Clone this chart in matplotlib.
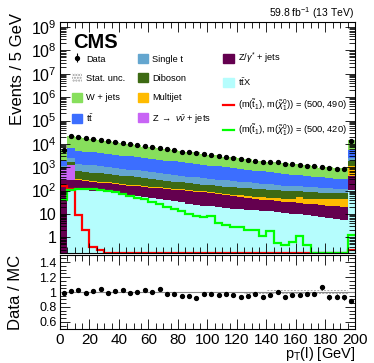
import numpy as np
import matplotlib
matplotlib.use("Agg")
import matplotlib.pyplot as plt
from matplotlib.patches import Patch
from matplotlib.lines import Line2D
from matplotlib.ticker import FixedLocator, FuncFormatter, MultipleLocator, LogLocator, NullFormatter

plt.rcParams['font.family'] = ['Liberation Sans', 'DejaVu Sans']
plt.rcParams['mathtext.fontset'] = 'custom'
plt.rcParams['mathtext.rm'] = 'Liberation Sans'
plt.rcParams['mathtext.it'] = 'Liberation Sans:italic'
plt.rcParams['mathtext.bf'] = 'Liberation Sans:bold'

# 5 GeV bins from 0 to 200, the last bin also holds the overflow
bin_edges = np.arange(0, 205, 5)

data = [5250, 21900, 19950, 18200, 16200, 14800, 12900, 11700, 10700, 10000,
        8700, 7940, 7080, 6760, 6170, 5370, 4680, 4370, 3980, 3720,
        3240, 3160, 2630, 2510, 2240, 2140, 1780, 1700, 1660, 1620,
        1410, 1320, 1290, 1175, 1100, 1020, 930, 850, 850, 12900]

ttx = [0, 129, 120, 110, 100, 93, 85, 78, 72, 66,
       60, 54, 48, 43, 39, 35, 31, 28, 25, 22,
       21, 19, 18, 17, 16, 15.5, 14.5, 13.5, 13, 12,
       11, 10, 9.5, 8.7, 8, 7.3, 6.7, 6.1, 5.6, 109]
zgamma = [277, 166, 155, 145, 136, 128, 120, 112, 104, 96,
          92, 88, 84, 80, 77, 73, 70, 67, 64, 61,
          55, 50, 45, 41, 37, 34, 31, 28, 25, 23.5,
          22, 21, 20, 19, 18, 17, 16, 15, 14, 296]
znunu = [635, 900] + [0] * 38
multijet = [10, 25, 24, 23, 22, 21, 20, 19, 17, 16,
            15, 14, 14, 13, 13, 12, 12, 11, 11, 10,
            10, 10, 10, 10, 10, 10, 10, 10, 10, 11,
            12, 14, 22, 16, 17, 18, 20, 22, 25, 685]
diboson = [90, 420, 390, 360, 335, 310, 290, 265, 245, 229,
           206, 185, 167, 150, 135, 122, 110, 100, 92, 85,
           82, 79, 76, 73, 70, 68, 66, 64, 62, 57,
           53, 49, 46, 43, 40, 37, 35, 33, 31, 690]
single_t = [150, 800, 730, 670, 610, 560, 510, 465, 425, 390,
            355, 325, 300, 275, 250, 230, 210, 195, 180, 170,
            155, 140, 128, 117, 107, 98, 90, 82, 75, 71,
            67, 63, 60, 56, 53, 50, 48, 46, 44, 790]
ttbar = [600, 3900, 3620, 3350, 3100, 2870, 2660, 2470, 2300, 2160,
         1980, 1820, 1670, 1530, 1400, 1290, 1180, 1090, 1010, 940,
         860, 790, 725, 665, 610, 560, 510, 465, 424, 390,
         360, 330, 300, 275, 255, 235, 215, 200, 185, 3130]
wjets = [3560, 15300, 14330, 13800, 11580, 10250, 9400, 8175, 7225, 7185,
         5950, 5223, 4833, 4409, 4401, 3757, 3313, 3109, 2944, 2508,
         2123, 2193, 1701, 1692, 1559, 1467, 1108, 1154, 1120, 1064,
         996, 897, 895, 790, 740, 594, 662, 586, 612, 8860]

mc_stat_rel = [0.02, 0.012, 0.012, 0.012, 0.013, 0.013, 0.013, 0.014, 0.014, 0.014,
               0.015, 0.015, 0.015, 0.016, 0.016, 0.016, 0.017, 0.017, 0.017, 0.018,
               0.018, 0.018, 0.019, 0.019, 0.019, 0.02, 0.02, 0.02, 0.021, 0.021,
               0.021, 0.022, 0.022, 0.022, 0.023, 0.023, 0.023, 0.024, 0.024, 0.01]

sig_490 = [160, 120, 9, 2.1, 0.4, 0.28] + [0] * 33 + [0.3]
sig_420 = [40, 105, 118, 118, 115, 108, 95, 88, 75, 60,
           50, 42, 32, 26, 20, 17, 13, 10, 8, 7.3,
           7.8, 4.3, 3.4, 2.9, 2.9, 2.1, 2.1, 1.1, 1.8, 0.56,
           0.48, 0.66, 1.1, 0.48, 0.22, 0, 0, 0, 0, 1.2]

# stacking order, bottom first
stack = [
    (ttx, '#b5fdfd', r'$\mathrm{t\bar{t}X}$'),
    (zgamma, '#64004f', r'Z/$\gamma^{*}$ + jets'),
    (znunu, '#c864f5', r'Z $\rightarrow$ $\nu\bar{\nu}$ + jets'),
    (multijet, '#ffbb00', 'Multijet'),
    (diboson, '#3d6a13', 'Diboson'),
    (single_t, '#64a6cf', 'Single t'),
    (ttbar, '#3c6eff', r'$\mathrm{t\bar{t}}$'),
    (wjets, '#87df5c', 'W + jets'),
]

y_min, y_max = 0.22, 1.6e9

fig = plt.figure(figsize=(3.74, 3.63), dpi=100)
ax = fig.add_axes([0.1604, 0.3039, 0.7888, 0.6347])
axr = fig.add_axes([0.1604, 0.0928, 0.7888, 0.2055], sharex=ax)

centers = 0.5 * (bin_edges[:-1] + bin_edges[1:])
cum = np.cumsum([np.array(s[0], dtype=float) for s in stack], axis=0)
total = cum[-1]

# ROOT style: every cumulative histogram filled from the bottom, largest first
for k in range(len(stack) - 1, -1, -1):
    y = np.append(cum[k], cum[k][-1])
    ax.fill_between(bin_edges, 0, y, step='post', color=stack[k][1], lw=0)

unc = total * np.array(mc_stat_rel)
ax.fill_between(bin_edges, np.append(total - unc, (total - unc)[-1]),
                np.append(total + unc, (total + unc)[-1]), step='post',
                facecolor='none', edgecolor='#999999', hatch='.....', lw=0)

for sig, col in [(sig_490, '#ff0000'), (sig_420, '#00ff00')]:
    s = np.maximum(np.array(sig, dtype=float), y_min)
    ax.stairs(s, bin_edges, color=col, lw=1.6, baseline=None)

data = np.array(data, dtype=float)
eb = ax.errorbar(centers, data, yerr=np.sqrt(data), fmt='o', color='black',
                 ms=2.8, elinewidth=0.8, capsize=0)

ax.set_yscale('log')
ax.set_ylim(y_min, y_max)
ax.set_xlim(0, 200)
ax.yaxis.set_major_locator(LogLocator(base=10, numticks=20))
ax.yaxis.set_minor_locator(LogLocator(base=10, subs=np.arange(2, 10), numticks=20))
ax.yaxis.set_minor_formatter(NullFormatter())


def log_label(v, pos):
    e = int(round(np.log10(v)))
    if e == 0:
        return '1'
    if e == 1:
        return '10'
    return r'$10^{%d}$' % e


ax.yaxis.set_major_formatter(FuncFormatter(log_label))
plt.setp(ax.get_xticklabels(), visible=False)

for a in (ax, axr):
    a.tick_params(which='both', direction='in', top=True, right=True, labelsize=11.5, pad=2.5)
    a.tick_params(which='major', length=7, width=0.6)
    a.tick_params(which='minor', length=4, width=0.6)
    a.xaxis.set_major_locator(MultipleLocator(20))
    a.xaxis.set_minor_locator(MultipleLocator(5))
    for sp in a.spines.values():
        sp.set_linewidth(0.8)
axr.tick_params(axis='y', labelsize=9)
axr.tick_params(axis='x', labelsize=11, pad=3)

ax.set_ylabel('Events / 5 GeV', fontsize=12, loc='top')
ax.yaxis.set_label_coords(-0.12, 1.04)

ax.text(0.045, 0.955, 'CMS', transform=ax.transAxes, fontsize=14.5,
        fontweight='bold', ha='left', va='top')
fig.text(0.945, 0.965, r'59.8 fb$^{-1}$ (13 TeV)', fontsize=7.5, ha='right', va='center')

handles = [
    eb,
    Patch(facecolor='white', edgecolor='#999999', hatch='......', lw=0),
    Patch(color=stack[7][1]),
    Patch(color=stack[6][1]),
    Patch(color=stack[5][1]),
    Patch(color=stack[4][1]),
    Patch(color=stack[3][1]),
    Patch(color=stack[2][1]),
    Patch(color=stack[1][1]),
    Patch(color=stack[0][1]),
    Line2D([], [], color='#ff0000', lw=1.6),
    Line2D([], [], color='#00ff00', lw=1.6),
]
labels = [
    'Data', 'Stat. unc.', stack[7][2], stack[6][2],
    stack[5][2], stack[4][2], stack[3][2], stack[2][2],
    stack[1][2], stack[0][2],
    r'(m($\tilde{\mathrm{t}}_{1}$), m($\tilde{\chi}^{0}_{1}$)) = (500, 490)',
    r'(m($\tilde{\mathrm{t}}_{1}$), m($\tilde{\chi}^{0}_{1}$)) = (500, 420)',
]
ax.legend(handles, labels, ncol=3, loc='upper left',
          bbox_to_anchor=(72 / 374, 1 - 51 / 363), bbox_transform=fig.transFigure,
          frameon=False, fontsize=6.7, handlelength=1.1, handleheight=1.1,
          handletextpad=0.45, columnspacing=1.3, labelspacing=1.05,
          borderpad=0, borderaxespad=0)

# ratio panel
ratio = data / total
ratio_err = np.sqrt(data) / total
rel = np.array(mc_stat_rel)
axr.fill_between(bin_edges, np.append(1 - rel, 1 - rel[-1]), np.append(1 + rel, 1 + rel[-1]),
                 step='post', facecolor='none', edgecolor='#999999', hatch='.....', lw=0)
axr.axhline(1, color='#888888', lw=0.8)
axr.errorbar(centers, ratio, yerr=ratio_err, fmt='o', color='black', ms=2.8,
             elinewidth=0.8, capsize=0)
axr.set_ylim(0.5, 1.5)
axr.set_xlim(0, 200)
axr.yaxis.set_major_locator(FixedLocator([0.6, 0.8, 1.0, 1.2, 1.4]))
axr.yaxis.set_minor_locator(MultipleLocator(0.05))
axr.yaxis.set_major_formatter(FuncFormatter(lambda v, p: '%g' % v))
axr.set_ylabel('Data / MC', fontsize=12)
axr.yaxis.set_label_coords(-0.125, 0.5)
axr.set_xlabel(r'p$_{\mathrm{T}}$(l) [GeV]', fontsize=10.5, loc='right')
axr.xaxis.set_label_coords(1.0, -0.21)

fig.savefig('out.png', dpi=100)
